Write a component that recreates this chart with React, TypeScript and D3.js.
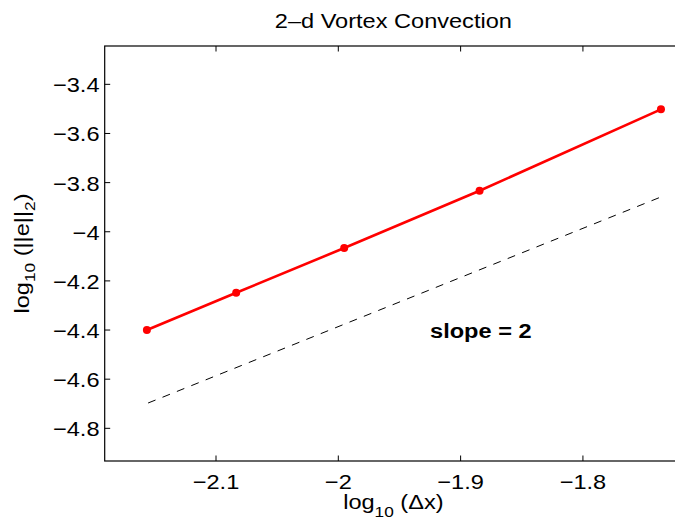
import React from 'react';
import * as d3 from 'd3';

// Data (log10 of grid spacing vs log10 of L2 error)
const xValues = [-2.1565, -2.0835, -1.9952, -1.8845, -1.7362];
const yValues = [-4.4, -4.2482, -4.0663, -3.833, -3.5018];
// Reference slope-2 line
const refX = [-2.1555, -1.7362];
const refY = [-4.697, -3.8584];
// Axes
const xTicks = [-2.1, -2.0, -1.9, -1.8];
const yTicks = [-4.8, -4.6, -4.4, -4.2, -4.0, -3.8, -3.6, -3.4];
const xLimits = [-2.191, -1.719];
const yLimits = [-4.933, -3.244];
// Annotation
const annotX = -1.925;
const annotY = -4.4;
const annotText = 'slope = 2';
const titleText = '2\u2013d Vortex Convection';

const W = 675;
const H = 527;
const left = 104.7;
const right = 682;
const top = 46;
const bottom = 461;
const FONT = '"Liberation Sans", Arial, Helvetica, sans-serif';
const FS = 20.5;
const SX = 1.15;

export default function App() {
  const x = d3.scaleLinear().domain(xLimits).range([left, right]);
  const y = d3.scaleLinear().domain(yLimits).range([bottom, top]);
  const fmt = d3.format('');
  const pts = xValues.map((v, i) => [v, yValues[i]] as [number, number]);
  const line = d3.line<[number, number]>().x(d => x(d[0])).y(d => y(d[1]));
  const refPts = refX.map((v, i) => [v, refY[i]] as [number, number]);
  const tickLen = 5.5;

  return (
    <svg width={W} height={H} style={{ position: 'absolute', left: 0, top: 0, background: '#fff' }}
      fontFamily={FONT}>
      <rect x={0} y={0} width={W} height={H} fill="#fff" />
      {/* title */}
      <text transform={`translate(${(left + right) / 2},28.3) scale(${SX},1)`} textAnchor="middle" fontSize={FS} fill="#000">
        {titleText}
      </text>
      {/* data */}
      <path d={line(refPts) || ''} fill="none" stroke="#000" strokeWidth={1} strokeDasharray="8,7.5" />
      <path d={line(pts) || ''} fill="none" stroke="#ff0000" strokeWidth={2.6} />
      {pts.map((p, i) => (
        <circle key={i} cx={x(p[0])} cy={y(p[1])} r={4} fill="#ff0000" />
      ))}
      <text transform={`translate(${x(annotX)},${y(annotY) + 7.5}) scale(${SX},1)`} fontSize={FS} fontWeight="bold" fill="#000">
        {annotText}
      </text>
      {/* axes box */}
      <rect x={left} y={top} width={right - left} height={bottom - top} fill="none" stroke="#000" strokeWidth={1.2} />
      {xTicks.map(t => (
        <g key={'x' + t}>
          <line x1={x(t)} x2={x(t)} y1={bottom} y2={bottom - tickLen} stroke="#000" strokeWidth={1} />
          <line x1={x(t)} x2={x(t)} y1={top} y2={top + tickLen} stroke="#000" strokeWidth={1} />
          <text transform={`translate(${x(t)},488.5) scale(${SX},1)`} textAnchor="middle" fontSize={FS} fill="#000">
            {fmt(t)}
          </text>
        </g>
      ))}
      {yTicks.map(t => (
        <g key={'y' + t}>
          <line x1={left} x2={left + tickLen} y1={y(t)} y2={y(t)} stroke="#000" strokeWidth={1} />
          <line x1={right} x2={right - tickLen} y1={y(t)} y2={y(t)} stroke="#000" strokeWidth={1} />
          <text transform={`translate(99.5,${y(t) + 8}) scale(${SX},1)`} textAnchor="end" fontSize={FS} fill="#000">
            {fmt(t)}
          </text>
        </g>
      ))}
      {/* x label */}
      <text transform={`translate(${(left + right) / 2},508.5) scale(${SX},1)`} textAnchor="middle" fontSize={FS} fill="#000">
        <tspan>log</tspan>
        <tspan dy={8} fontSize={15}>10</tspan>
        <tspan dy={-8}>{' (\u0394x)'}</tspan>
      </text>
      {/* y label */}
      <text transform={`translate(28.5,${(top + bottom) / 2}) rotate(-90) scale(${SX},1)`} textAnchor="middle" fontSize={FS} fill="#000">
        <tspan>log</tspan>
        <tspan dy={6} fontSize={15}>10</tspan>
        <tspan dy={-6}>{' (||e||'}</tspan>
        <tspan dy={6} fontSize={15}>2</tspan>
        <tspan dy={-6}>)</tspan>
      </text>
    </svg>
  );
}
